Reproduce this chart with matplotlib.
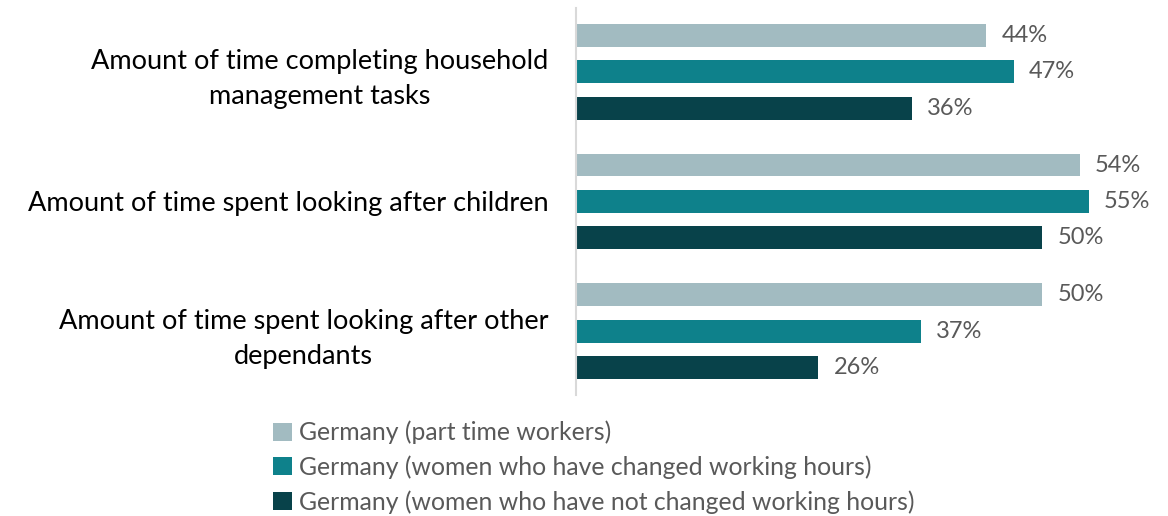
import matplotlib.pyplot as plt
import numpy as np
from matplotlib.patches import Patch

categories = [
    "Amount of time completing household\nmanagement tasks",
    "Amount of time spent looking after children",
    "Amount of time spent looking after other\ndependants",
]
series_names = [
    "Germany (part time workers)",
    "Germany (women who have changed working hours)",
    "Germany (women who have not changed working hours)",
]
part_time = [44, 54, 50]
changed = [47, 55, 37]
not_changed = [36, 50, 26]

colors = ["#A2BBC1", "#0E818B", "#08424A"]

plt.rcParams['font.family'] = ['Lato', 'DejaVu Sans']

fig = plt.figure(figsize=(11.68, 5.16), dpi=100)
ax = fig.add_axes([0.4932, 0.2345, 0.479, 0.75])

y = np.arange(len(categories))
offset = 0.281
height = 0.177
for i, vals in enumerate([part_time, changed, not_changed]):
    pos = y + (i - 1) * offset
    ax.barh(pos, vals, height=height, color=colors[i], label=series_names[i])
    for p, v in zip(pos, vals):
        ax.text(v + 1.6, p, f"{v}%", va='center', ha='left', fontsize=17, color='#595959')

ax.set_xlim(0, 60)
ax.set_ylim(2.49, -0.49)
ax.set_yticks(y)
ax.set_yticklabels(categories, fontsize=19.5, multialignment='center', linespacing=1.5)
ax.tick_params(axis='y', length=0, pad=20)
ax.set_xticks([])
for s in ['top', 'right', 'bottom']:
    ax.spines[s].set_visible(False)
ax.spines['left'].set_color('#D9D9D9')
ax.spines['left'].set_linewidth(1.5)

handles = [Patch(facecolor=c) for c in colors]
fig.legend(handles, series_names, loc='upper left', bbox_to_anchor=(0.215, 0.228),
           frameon=False, fontsize=17.8, labelcolor='#595959', handlelength=0.75,
           handleheight=0.75, handletextpad=0.3, labelspacing=0.45)

fig.savefig("out.png", dpi=100)
